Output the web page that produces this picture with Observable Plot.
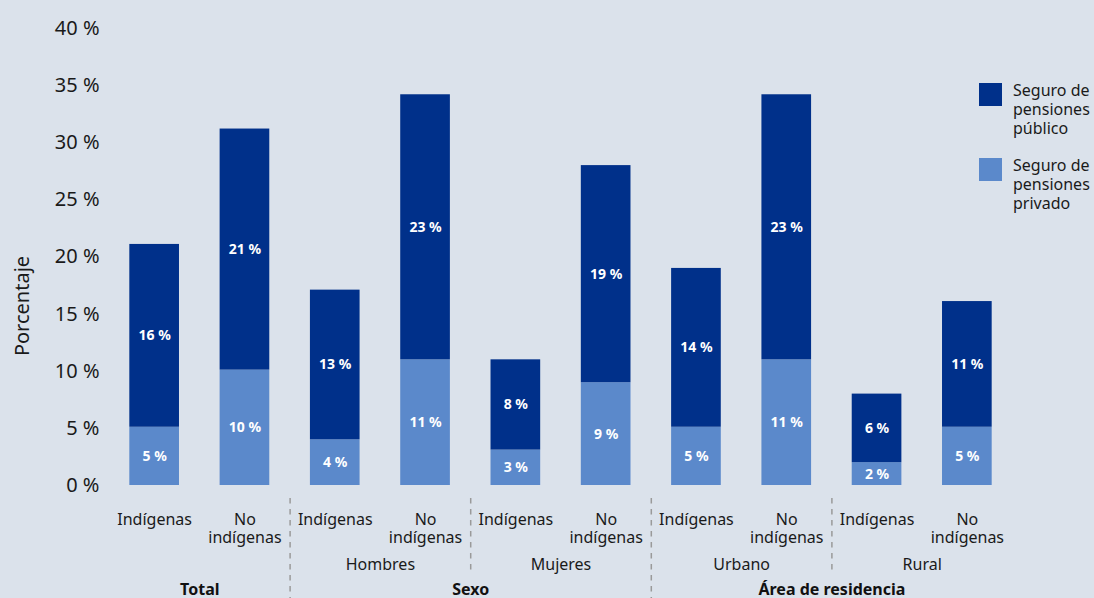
<!DOCTYPE html>
<html>
<head>
<meta charset="utf-8">
<script src="https://cdn.jsdelivr.net/npm/d3@7"></script>
<script src="https://cdn.jsdelivr.net/npm/@observablehq/plot@0.6"></script>
<style>
  html, body { margin: 0; padding: 0; background: #dbe2eb; font-family: "Noto Sans", sans-serif; }
  #wrap { position: relative; width: 1094px; height: 598px; overflow: hidden; }
  .leg { position: absolute; display: flex; align-items: flex-start; font-size: 16px; line-height: 19px; color: #1a1a1a; }
  .leg .sw { width: 23px; height: 23px; margin-right: 11px; flex: none; }
  .leg .tx { margin-top: -2px; }
  #ylab { position: absolute; left: 22px; top: 306px; transform: translate(-50%, -50%) rotate(-90deg); font-size: 20px; color: #1a1a1a; white-space: nowrap; line-height: 1; }
</style>
</head>
<body>
<div id="wrap"><div id="ylab">Porcentaje</div></div>
<script>
// ---- data (percent) ----
const groups = ["Total", "Total", "Hombres", "Hombres", "Mujeres", "Mujeres", "Urbano", "Urbano", "Rural", "Rural"];
const populations = ["Indígenas", "No indígenas", "Indígenas", "No indígenas", "Indígenas", "No indígenas", "Indígenas", "No indígenas", "Indígenas", "No indígenas"];
const privado = [5.1, 10.1, 4.0, 11.0, 3.1, 9.0, 5.1, 11.0, 2.0, 5.1];
const publico = [16.0, 21.1, 13.1, 23.2, 7.9, 19.0, 13.9, 23.2, 6.0, 11.0];
const series = ["Seguro de pensiones privado", "Seguro de pensiones público"];
const colors = ["#5b89cb", "#00308a"];
const yTicks = [0, 5, 10, 15, 20, 25, 30, 35, 40];
const subLabels = ["Hombres", "Mujeres", "Urbano", "Rural"];
const topLabels = ["Total", "Sexo", "Área de residencia"];
const topMembers = [["Total"], ["Hombres", "Mujeres"], ["Urbano", "Rural"]];

// ---- layout ----
const width = 1094, height = 598;
const marginLeft = 109, marginRight = 82, marginTop = 28, marginBottom = 113;
const paddingInner = 0.45, paddingOuter = 0.225;

const keys = groups.map((g, i) => g + "|" + populations[i]);
const data = [];
keys.forEach((k, i) => {
  data.push({key: k, serie: series[0], value: privado[i]});
  data.push({key: k, serie: series[1], value: publico[i]});
});
const n = keys.length;
const step = (width - marginLeft - marginRight) / (n - paddingInner + 2 * paddingOuter);

function topOf(g) { return topLabels[topMembers.findIndex(m => m.includes(g))]; }

// separators between groups
const sepShort = [], sepLong = [];
for (let i = 1; i < n; i++) {
  if (groups[i] !== groups[i - 1]) {
    (topOf(groups[i]) !== topOf(groups[i - 1]) ? sepLong : sepShort).push(keys[i]);
  }
}

const labelMarks = [];
subLabels.forEach(lab => {
  const idx = groups.indexOf(lab);
  const span = groups.filter(g => g === lab).length;
  labelMarks.push(Plot.text([lab], {x: () => keys[idx], text: d => d, frameAnchor: "bottom", lineAnchor: "top", dy: 73, dx: step * (span - 1) / 2, fontSize: 16, fill: "#1a1a1a"}));
});
topLabels.forEach((lab, j) => {
  const idx = groups.indexOf(topMembers[j][0]);
  const span = groups.filter(g => topMembers[j].includes(g)).length;
  labelMarks.push(Plot.text([lab], {x: () => keys[idx], text: d => d, frameAnchor: "bottom", lineAnchor: "top", dy: 98, dx: step * (span - 1) / 2, fontSize: 16, fontWeight: "bold", fill: "#111"}));
});

const frameBottom = height - marginBottom;
const sepStyle = {stroke: "#9a9a9a", strokeWidth: 1.5, strokeDasharray: "5.5,5.5", dx: -step / 2, insetTop: 498 - marginTop};

const plot = Plot.plot({
  width, height, marginLeft, marginRight, marginTop, marginBottom,
  style: {background: "transparent", fontFamily: "Noto Sans", color: "#1a1a1a", overflow: "visible"},
  x: {domain: keys, paddingInner, paddingOuter, round: false, axis: null},
  y: {domain: [0, 40], axis: null},
  color: {domain: series, range: colors},
  marks: [
    Plot.axisY({ticks: yTicks, tickSize: 0, tickPadding: 10, tickFormat: d => d + " %", fontSize: 20, label: null}),
    Plot.axisX({tickSize: 0, tickPadding: 27, fontSize: 16, lineHeight: 1.1,
      tickFormat: k => k.split("|")[1].replace("No indígenas", "No\nindígenas"), label: null}),
    Plot.barY(data, {x: "key", y: "value", fill: "serie", order: series}),
    Plot.text(data, Plot.stackY({x: "key", y: "value", z: "serie", order: series, text: d => Math.round(d.value) + " %", fill: "white", fontWeight: "bold", fontSize: 14})),
    Plot.ruleX(sepShort, {x: d => d, ...sepStyle, insetBottom: -(573 - frameBottom)}),
    Plot.ruleX(sepLong, {x: d => d, ...sepStyle, insetBottom: -(height - frameBottom)}),
    ...labelMarks
  ]
});
const wrap = document.getElementById("wrap");
wrap.appendChild(plot);

// legend (HTML, right side)
const legendTops = [83, 157.5];
const legendTexts = ["Seguro de<br>pensiones<br>público", "Seguro de<br>pensiones<br>privado"];
[1, 0].forEach((si, j) => {
  const item = document.createElement("div");
  item.className = "leg";
  item.style.left = "979px";
  item.style.top = legendTops[j] + "px";
  item.innerHTML = `<div class="sw" style="background:${colors[si]}"></div><div class="tx">${legendTexts[j]}</div>`;
  wrap.appendChild(item);
});
</script>
</body>
</html>
